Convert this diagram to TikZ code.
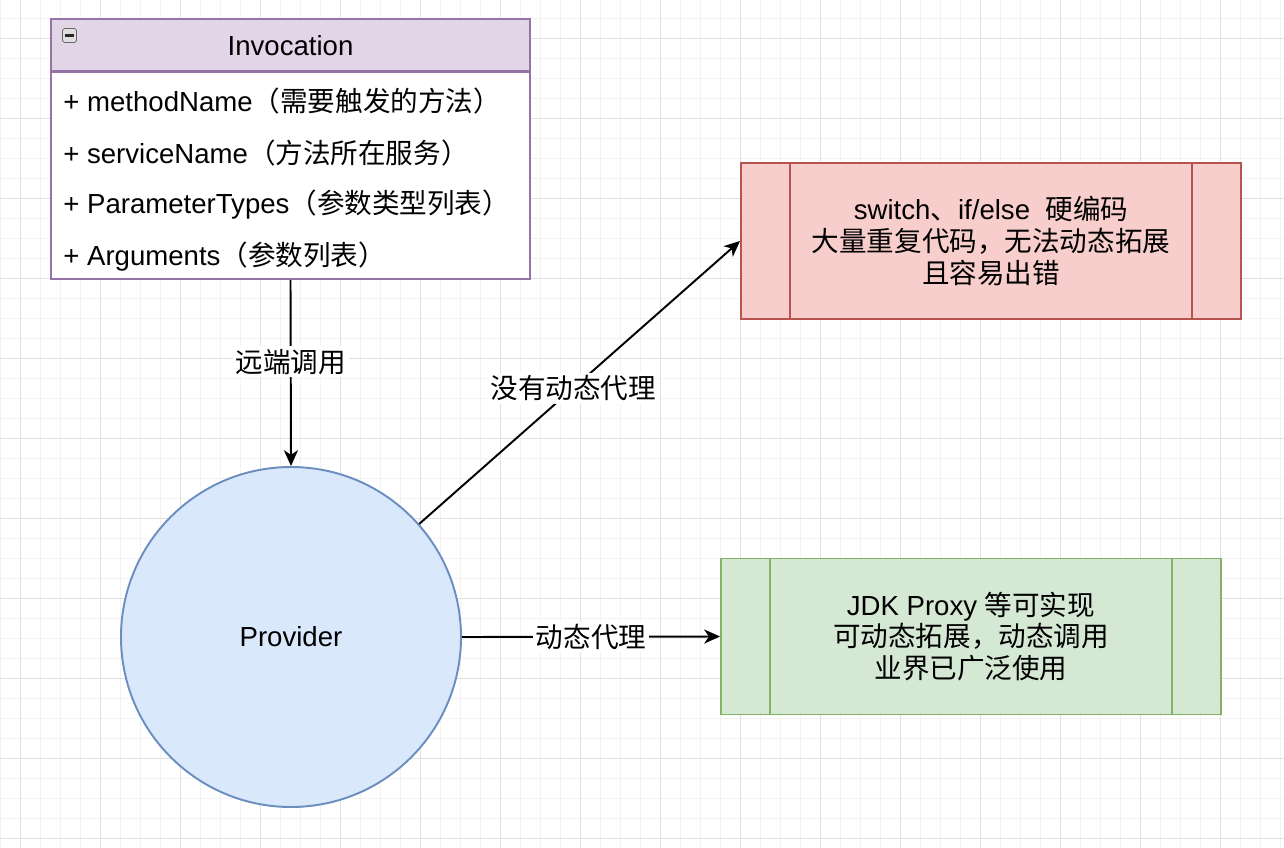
\documentclass[tikz,border=0pt]{standalone}
\usepackage{fontspec}
\setmainfont{Liberation Sans}
\newfontfamily\cjk{Noto Sans CJK SC}
\usetikzlibrary{arrows.meta,calc}

\newcommand{\zh}[1]{{\cjk #1}}
\newcommand{\pxl}{0.02cm}

\definecolor{umlfill}{HTML}{E1D5E7}
\definecolor{umlline}{HTML}{9673A6}
\definecolor{provfill}{HTML}{DAE8FC}
\definecolor{provline}{HTML}{6C8EBF}
\definecolor{badfill}{HTML}{F8CECC}
\definecolor{badline}{HTML}{B85450}
\definecolor{goodfill}{HTML}{D5E8D4}
\definecolor{goodline}{HTML}{82B366}
\definecolor{gridminor}{HTML}{F3F3F3}
\definecolor{gridmajor}{HTML}{E0E0E0}

\tikzset{
  classhead/.style={draw=umlline, fill=umlfill, line width=1.1pt,
    minimum width=479*\pxl, minimum height=52*\pxl},
  classbody/.style={draw=umlline, fill=white, line width=1.1pt,
    minimum width=479*\pxl, minimum height=207*\pxl},
  field/.style={anchor=west},
  procbox/.style={line width=1.1pt, minimum width=500*\pxl,
    minimum height=156*\pxl, align=center},
  link/.style={line width=1.1pt, -{Stealth[length=9pt, width=8pt, inset=2.6pt]}},
  lbl/.style={fill=white, inner sep=1.5pt}
}

\begin{document}
\begin{tikzpicture}[x=0.02cm, y=-0.02cm,
  every node/.style={font=\fontsize{15.7}{18.1}\selectfont, inner sep=0pt}]
  \useasboundingbox (0,0) rectangle (1284,848);

  % background grid
  \foreach \x in {0,20,...,1280}
    \draw[gridminor, line width=0.55pt] (\x,0) -- (\x,848);
  \foreach \y in {18,38,...,838}
    \draw[gridminor, line width=0.55pt] (0,\y) -- (1284,\y);
  \foreach \x in {20,100,...,1260}
    \draw[gridmajor, line width=0.55pt] (\x,0) -- (\x,848);
  \foreach \y in {38,118,...,838}
    \draw[gridmajor, line width=0.55pt] (0,\y) -- (1284,\y);

  % class box
  \node[classbody, anchor=north] (invbody) at (290.5,71) {};
  \node[classhead] (invhead) at (290.5,45) {};
  \node (invtitle) at (290.5,46) {Invocation};
  \node[draw=gray!80!black, fill=gray!25, rounded corners=1pt,
    minimum size=14*\pxl] (collapse) at (69.5,35.5) {};
  \draw[line width=1.6pt, gray!30!black]
    ($(collapse.center)+(-4.5,0)$) -- ($(collapse.center)+(4.5,0)$);
  \node[field] (fmethod) at (63,101) {+ methodName\zh{（需要触发的方法）}};
  \node[field] (fservice) at (63,153) {+ serviceName\zh{（方法所在服务）}};
  \node[field] (fparams) at (63,205) {+ ParameterTypes\zh{（参数类型列表）}};
  \node[field] (fargs) at (63,257) {+ Arguments\zh{（参数列表）}};

  % provider
  \node[circle, draw=provline, fill=provfill, line width=1.1pt,
    minimum size=340*\pxl] (prov) at (291,637) {Provider};

  % outcomes
  \node[procbox, draw=badline, fill=badfill] (hardcode) at (991,241)
    {switch\zh{、}if/else\ \ \zh{硬编码}\\
     \zh{大量重复代码，无法动态拓展}\\
     \zh{且容易出错}};
  \draw[badline, line width=1.1pt]
    ($(hardcode.north west)+(50,0)$) -- ($(hardcode.south west)+(50,0)$);
  \draw[badline, line width=1.1pt]
    ($(hardcode.north east)+(-50,0)$) -- ($(hardcode.south east)+(-50,0)$);

  \node[procbox, draw=goodline, fill=goodfill] (proxy) at (971,636.5)
    {JDK Proxy \zh{等可实现}\\
     \zh{可动态拓展，动态调用}\\
     \zh{业界已广泛使用}};
  \draw[goodline, line width=1.1pt]
    ($(proxy.north west)+(50,0)$) -- ($(proxy.south west)+(50,0)$);
  \draw[goodline, line width=1.1pt]
    ($(proxy.north east)+(-50,0)$) -- ($(proxy.south east)+(-50,0)$);

  % connectors
  \draw[link] (invbody.south) -- node[lbl, pos=0.44] {\zh{远端调用}} (prov.north);
  \draw[link] (prov) -- node[lbl, pos=0.48] {\zh{没有动态代理}} (hardcode.west);
  \draw[link] (prov.east) -- node[lbl] {\zh{动态代理}} (proxy.west);
\end{tikzpicture}
\end{document}
